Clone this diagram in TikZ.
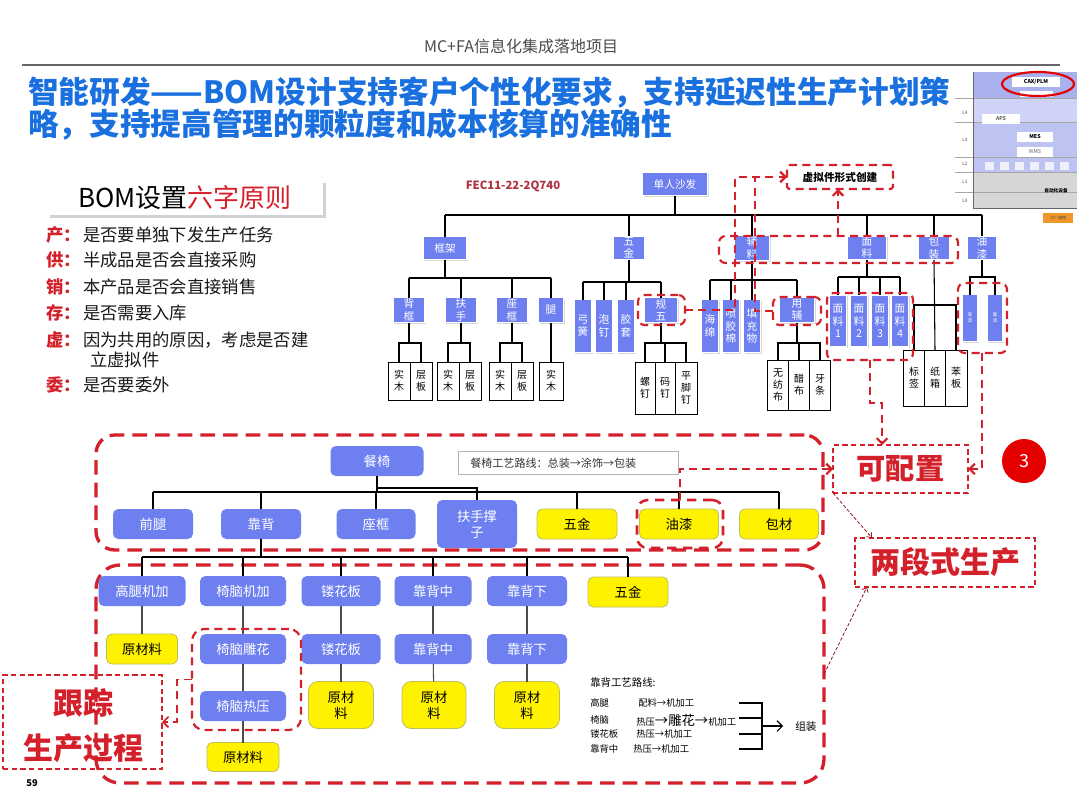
\documentclass[tikz,border=0pt]{standalone}
\usepackage{fontspec}
\setmainfont{Noto Sans CJK SC}
\usetikzlibrary{arrows.meta,shadows,calc}
\definecolor{nblue}{RGB}{110,128,240}
\definecolor{yborder}{RGB}{190,190,90}
\definecolor{rred}{RGB}{212,32,42}
\definecolor{tblue}{RGB}{25,112,222}
\definecolor{fecred}{RGB}{176,48,64}
\definecolor{thA}{RGB}{168,176,238}
\definecolor{thB}{RGB}{206,211,247}
\definecolor{thC}{RGB}{190,196,242}
\definecolor{thG}{RGB}{214,214,214}
\definecolor{orng}{RGB}{240,150,40}
\begin{document}
\begin{tikzpicture}[x=0.75pt,y=-0.75pt,
  sz/.style 2 args={minimum width=#1*0.75pt,minimum height=#2*0.75pt},
  base/.style={inner sep=0pt,outer sep=0pt,align=center},
  tb/.style={base,rectangle,fill=nblue,draw=white,line width=1.2pt,
     drop shadow={shadow xshift=1pt,shadow yshift=-1pt,opacity=0.3},
     text=white,font=\fontsize{8}{9.3}\selectfont},
  wb/.style={base,draw=black,line width=0.6pt,fill=white,font=\fontsize{7.5}{9}\selectfont},
  mb/.style={base,fill=nblue,rounded corners=4pt,text=white,font=\fontsize{10}{12}\selectfont},
  yb/.style={base,fill=yellow,draw=yborder,line width=0.6pt,rounded corners=4pt,font=\fontsize{10}{12}\selectfont},
  rdb/.style={base,draw=rred,line width=2.5pt,dash pattern=on 11pt off 6pt,rounded corners=14pt},
  rdm/.style={base,draw=rred,line width=1.6pt,dash pattern=on 6pt off 4pt,rounded corners=5pt},
  rdl/.style={draw=rred,line width=1.6pt,dash pattern=on 6pt off 4pt},
  rdf/.style={base,draw=rred,line width=1.1pt,dash pattern=on 4pt off 2.5pt},
  rdt/.style={draw=rred!70!black,line width=0.6pt,dash pattern=on 2.5pt off 1.5pt},
  tline/.style={draw=black,line width=0.8pt},
  gline/.style={draw=black!70,line width=0.8pt},
  arr/.style={-{Straight Barb[length=4pt,width=8pt]}},
  arrs/.style={-{Straight Barb[length=3pt,width=5pt]}},
  bigred/.style={base,text=rred,font=\fontsize{22.5}{26}\selectfont\bfseries},
]
\useasboundingbox (0,0) rectangle (1080,810);
\fill[white] (0,0) rectangle (1080,810);

% ---------- header ----------
\node[font=\fontsize{12}{14}\selectfont,text=black!70] (hdr) at (521,46) {MC+FA信息化集成落地项目};
\coordinate (hl1) at (22,65); \coordinate (hl2) at (1060,65);
\draw[black!60,line width=1.3pt] (hl1) -- (hl2);

% ---------- title ----------
\node[anchor=west,inner sep=0pt,font=\fontsize{23}{27}\selectfont\bfseries,text=tblue] (t1) at (28,93) {智能研发——BOM设计支持客户个性化要求，支持延迟性生产计划策};
\node[anchor=west,inner sep=0pt,font=\fontsize{23}{27}\selectfont\bfseries,text=tblue] (t2) at (28,125) {略，支持提高管理的颗粒度和成本核算的准确性};

% ---------- thumbnail ----------
\fill[thA] (973,72) rectangle (1077,98);
\fill[thB] (973,98) rectangle (1077,122);
\fill[thC] (973,122) rectangle (1077,172);
\fill[thG] (973,172) rectangle (1077,208);
\foreach \yy in {98,122,157,172,192} \draw[black!35,line width=0.4pt] (955,\yy) -- (1077,\yy);
\foreach \xx in {985,1000,1015,1030,1045,1060} \fill[white!75!thC] (\xx,162) rectangle ++(9,8);
\draw[black!60,line width=0.7pt] (973,72) -- (973,208) -- (1077,208);
\node[base,fill=white,sz={48}{10},font=\fontsize{4}{4}\selectfont\bfseries] (cax) at (1036,82) {CAX/PLM};
\node[base,fill=white,sz={33}{6}] (cax2) at (1036,94) {};
\node[base,fill=white,sz={38}{10},font=\fontsize{4}{4}\selectfont] (aps) at (1001,119) {APS};
\node[base,fill=white,sz={36}{10},font=\fontsize{4}{4}\selectfont\bfseries] (mes) at (1035,137) {MES};
\node[base,fill=white,sz={36}{10},font=\fontsize{4}{4}\selectfont,text=black!60] (wms) at (1035,152) {WMS};
\node[base,font=\fontsize{3.5}{4}\selectfont\bfseries] (zdh) at (1056,191) {自动化设备};
\foreach \yy/\ll in {113/L4,140/L3,164/L2,182/L1,201/L0}
  \node[base,font=\fontsize{3.5}{4}\selectfont,text=black!70] at (965,\yy) {\ll};
\draw[red!90!black,line width=1.6pt] (1038,84) ellipse [x radius=36,y radius=12];
\node[base,fill=orng,sz={30}{10},font=\fontsize{3}{3}\selectfont,text=black!70] (btn) at (1058,218) {工厂建模};

% ---------- BOM six principles ----------
\node[base,fill=white,sz={276}{35},drop shadow={shadow xshift=2pt,shadow yshift=-2pt,opacity=0.35},font=\fontsize{19.5}{22}\selectfont] (bom) at (185,197.5) {BOM设置\textcolor{rred}{六字原则}};
\foreach \yy/\aa/\bb/\nm in {235/产/是否要单独下发生产任务/p1,260/供/半成品是否会直接采购/p2,287/销/本产品是否会直接销售/p3,313/存/是否需要入库/p4,340/虚/因为共用的原因，考虑是否建/p5,385/委/是否要委外/p6}{
  \node[anchor=west,inner sep=0pt,font=\fontsize{13}{15}\selectfont\bfseries,text=rred] (\nm a) at (46,\yy) {\aa ：};
  \node[anchor=west,inner sep=0pt,font=\fontsize{13}{15}\selectfont,text=black!90] (\nm b) at (83,\yy) {\bb};
}
\node[anchor=west,inner sep=0pt,font=\fontsize{13}{15}\selectfont,text=black!90] (p5c) at (90,360) {立虚拟件};

% ---------- top tree (sofa) ----------
\node[font=\fontsize{8.5}{10}\selectfont\bfseries,text=fecred] (fec) at (513,186) {FEC11-22-2Q740};
\coordinate (b0) at (0,215);
\coordinate (b1) at (0,278);
\coordinate (b2) at (0,343);
\coordinate (b3) at (0,282);
\coordinate (b5) at (0,280);
\coordinate (b6) at (0,277);
\coordinate (b7) at (0,305);

\node[tb,sz={65}{23}] (sofa) at (675,184) {单人沙发};
\node[tb,sz={44}{23}] (kj) at (445,248) {框架};
\node[tb,sz={32}{24}] (wj) at (629,248) {五\\金};
\node[tb,sz={35}{25}] (fl) at (752,248) {辅\\料};
\node[tb,sz={39}{24}] (ml) at (867,248) {面\\料};
\node[tb,sz={32}{24}] (bz) at (934,248) {包\\装};
\node[tb,sz={30}{24}] (yq) at (982,248) {油\\漆};

\draw[tline] (sofa.south) -- (sofa.south |- b0);
\draw[tline] (kj.north |- b0) -- (yq.north |- b0);
\foreach \nn in {kj,wj,fl,ml,bz,yq} \draw[tline] (\nn.north) -- (\nn.north |- b0);

% frame children
\node[tb,sz={32}{25}] (bk) at (409,310) {背\\框};
\node[tb,sz={32}{25}] (fs) at (461,310) {扶\\手};
\node[tb,sz={32}{25}] (zk) at (512,310) {座\\框};
\node[tb,sz={25}{25}] (tui) at (551,310) {腿};
\draw[tline] (kj.south) -- (kj.south |- b1);
\draw[tline] (bk.north |- b1) -- (tui.north |- b1);
\foreach \nn in {bk,fs,zk,tui} \draw[tline] (\nn.north) -- (\nn.north |- b1);

\node[wb,sz={22}{38}] (bk1) at (399,381) {实\\木};
\node[wb,sz={22}{38}] (bk2) at (421,381) {层\\板};
\node[wb,sz={22}{38}] (fs1) at (448,381) {实\\木};
\node[wb,sz={22}{38}] (fs2) at (470,381) {层\\板};
\node[wb,sz={22}{38}] (zk1) at (500,381) {实\\木};
\node[wb,sz={22}{38}] (zk2) at (522,381) {层\\板};
\node[wb,sz={24}{38}] (tui1) at (551,381) {实\\木};
\foreach \pp/\aa/\bb in {bk/bk1/bk2,fs/fs1/fs2,zk/zk1/zk2}{
  \draw[tline] (\pp.south) -- (\pp.south |- b2);
  \draw[tline] (\aa.north) -- (\aa.north |- b2) -- (\bb.north |- b2) -- (\bb.north);
}
\draw[tline] (tui.south) -- (tui1.north);

% hardware children
\node[tb,sz={18}{53}] (gh) at (583,326) {弓\\簧};
\node[tb,sz={18}{53}] (pd) at (604,326) {泡\\钉};
\node[tb,sz={18}{53}] (jt) at (626,326) {胶\\套};
\node[tb,sz={33}{25}] (gw) at (661,310) {规\\五};
\draw[tline] (wj.south) -- (wj.south |- b3);
\draw[tline] (gh.north |- b3) -- (gw.north |- b3);
\foreach \nn in {gh,pd,jt,gw} \draw[tline] (\nn.north) -- (\nn.north |- b3);

\node[wb,sz={20}{52}] (ld) at (645,388) {螺\\钉};
\node[wb,sz={20}{52}] (md) at (665,388) {码\\钉};
\node[wb,sz={22}{52}] (pjd) at (686,388) {平\\脚\\钉};
\draw[tline] (gw.south) -- (gw.south |- b2);
\draw[tline] (ld.north) -- (ld.north |- b2) -- (pjd.north |- b2) -- (pjd.north);
\draw[tline] (md.north) -- (md.north |- b2);

% auxiliary children
\node[tb,sz={17}{53}] (hm) at (710,326) {海\\绵};
\node[tb,sz={17}{53}] (pjm) at (731,326) {喷\\胶\\棉};
\node[tb,sz={17}{53}] (tcw) at (752,326) {填\\充\\物};
\node[tb,sz={35}{25}] (yf) at (797,310) {用\\辅};
\draw[tline] (fl.south) -- (fl.south |- b5);
\draw[tline] (hm.north |- b5) -- (yf.north |- b5);
\foreach \nn in {hm,pjm,tcw,yf} \draw[tline] (\nn.north) -- (\nn.north |- b5);

\node[wb,sz={21}{50}] (wfb) at (778,385) {无\\纺\\布};
\node[wb,sz={21}{50}] (cb) at (799,385) {醋\\布};
\node[wb,sz={21}{50}] (yt) at (820,385) {牙\\条};
\draw[tline] (yf.south) -- (yf.south |- b2);
\draw[tline] (wfb.north) -- (wfb.north |- b2) -- (yt.north |- b2) -- (yt.north);
\draw[tline] (cb.north) -- (cb.north |- b2);

% fabric children
\node[tb,sz={17}{52}] (m1) at (838,321) {面\\料\\1};
\node[tb,sz={17}{52}] (m2) at (859,321) {面\\料\\2};
\node[tb,sz={17}{52}] (m3) at (880,321) {面\\料\\3};
\node[tb,sz={17}{52}] (m4) at (900,321) {面\\料\\4};
\draw[tline] (ml.south) -- (ml.south |- b6);
\draw[tline] (m1.north |- b6) -- (m4.north |- b6);
\foreach \nn in {m1,m2,m3,m4} \draw[tline] (\nn.north) -- (\nn.north |- b6);

% packaging children
\node[wb,sz={22}{56}] (bq) at (914,378) {标\\签};
\node[wb,sz={21}{56}] (zx) at (935,378) {纸\\箱};
\node[wb,sz={22}{56}] (bb) at (956,378) {苯\\板};
\draw[tline] (bz.south) -- (zx.north);
\draw[tline] (bq.north) -- (bq.north |- b7) -- (bb.north |- b7) -- (bb.north);

% paint children
\node[tb,sz={16}{47},font=\fontsize{3.5}{4.5}\selectfont] (yqa) at (970,318) {底\\漆};
\node[tb,sz={16}{47},font=\fontsize{3.5}{4.5}\selectfont] (yqb) at (995,318) {面\\漆};
\draw[tline] (yq.south) -- (yq.south |- b6);
\draw[tline] (yqa.north) -- (yqa.north |- b6) -- (yqb.north |- b6) -- (yqb.north);

% red dashed groups (top)
\node[rdm,sz={239}{27}] (g1) at (838.5,249.5) {};
\node[rdm,sz={47}{30}] (g5) at (661.5,310) {};
\node[rdm,sz={48}{28}] (gyf) at (797,311) {};
\node[rdm,sz={86}{67}] (gml) at (870,326.5) {};
\node[rdm,sz={49}{70}] (gyq) at (982.5,318) {};
\node[rdm,rounded corners=2pt,sz={106}{24},font=\fontsize{8}{10}\selectfont\bfseries] (vbox) at (840,177) {虚拟件形式创建};

\coordinate (vx1) at (735,0);
\coordinate (vx2) at (755,0);
\coordinate (vx3) at (838,0);
\coordinate (d1) at (882,403);
\coordinate (e1) at (982,0);
\draw[rdl,arr] (g5.east) -- (g5.east -| vx1) |- (vbox.west);
\draw[rdl] (gyf.west) -- (gyf.west -| vx2) -- (vx2 |- vbox.west);
\draw[rdl,arr] (g1.north -| vx3) -- (vbox.south -| vx3);

% ---------- right labels ----------
\node[rdf,sz={135}{48},font=\fontsize{22}{26}\selectfont\bfseries,text=rred] (kpz) at (900.5,469) {可配置};
\node[rdf,sz={180}{49},font=\fontsize{22.5}{26}\selectfont\bfseries,text=rred] (ldsc) at (945,562.5) {两段式生产};
\node[circle,fill=red!90!black,minimum size=33pt,inner sep=0pt,text=white,font=\fontsize{13.5}{15}\selectfont] (n3) at (1024,461) {3};

\draw[rdl,arr] (gml.south) |- (d1) -- (d1 |- kpz.north);
\draw[rdl,arr] (gyq.south -| e1) -- (e1 |- kpz.east) -- (kpz.east);

% ---------- middle section ----------
\node[rdb,sz={727}{115}] (midbox) at (459.5,492.5) {};
\node[mb,sz={93}{30}] (cy) at (377,461) {餐椅};
\node[base,draw=black!30,line width=0.6pt,sz={220}{23}] (route) at (568,463) {};
\node[anchor=west,inner sep=0pt,font=\fontsize{8.3}{10}\selectfont,text=black!80] (routetxt) at (470,463) {餐椅工艺路线：总装→涂饰→包装};

\coordinate (m0) at (0,492);
\coordinate (m0b) at (0,488);
\node[mb,sz={80}{30}] (qt) at (153,524) {前腿};
\node[mb,sz={80}{30}] (kb) at (261,524) {靠背};
\node[mb,sz={79}{30}] (zkm) at (376,524) {座框};
\node[mb,sz={80}{48}] (fscz) at (477,524) {扶手撑\\子};
\node[yb,sz={80}{30}] (wj3) at (577,524) {五金};
\node[yb,sz={79}{30}] (yq3) at (679,524) {油漆};
\node[yb,sz={79}{30}] (bc) at (779,524) {包材};
\draw[tline] (cy.south) -- (cy.south |- m0);
\draw[tline] (qt.north |- m0) -- (bc.north |- m0);
\foreach \nn in {qt,kb,zkm,wj3,yq3,bc} \draw[tline] (\nn.north) -- (\nn.north |- m0);
\draw[tline] (cy.south |- m0b) -- (fscz.north |- m0b) -- (fscz.north);
\node[rdm,rounded corners=8pt,line width=1.9pt,dash pattern=on 7pt off 5pt,sz={86}{48}] (yqg) at (680,524) {};
\draw[rdl,arr] (yqg.north) -- (yqg.north |- kpz.west) -- (kpz.west);

% ---------- bottom section ----------
\node[rdb,rounded corners=18pt,sz={728}{218}] (botbox) at (460,674) {};
\coordinate (n0) at (0,557);
\node[mb,sz={87}{30}] (gtjj) at (142,591) {高腿机加};
\node[mb,sz={86}{30}] (ynjj) at (243,591) {椅脑机加};
\node[mb,sz={79}{30}] (lhb1) at (341,591) {镂花板};
\node[mb,sz={77}{30}] (kbz1) at (433,591) {靠背中};
\node[mb,sz={80}{30}] (kbx1) at (527,591) {靠背下};
\node[yb,sz={80}{30}] (wj4) at (628,592) {五金};
\node[yb,sz={71}{30}] (ycl1) at (142,649) {原材料};
\node[mb,sz={86}{30}] (yndh) at (243,649) {椅脑雕花};
\node[mb,sz={79}{30}] (lhb2) at (341,649) {镂花板};
\node[mb,sz={77}{30}] (kbz2) at (433,649) {靠背中};
\node[mb,sz={80}{30}] (kbx2) at (527,649) {靠背下};
\node[mb,sz={86}{30}] (ynry) at (243,706) {椅脑热压};
\node[yb,rounded corners=7pt,sz={65}{47}] (ycl2) at (341,705) {原材\\料};
\node[yb,rounded corners=7pt,sz={64}{47}] (ycl3) at (434,705) {原材\\料};
\node[yb,rounded corners=7pt,sz={65}{47}] (ycl4) at (527,705) {原材\\料};
\node[yb,sz={72}{29}] (ycl5) at (243,757) {原材料};

\draw[tline] (kb.south) -- (kb.south |- n0);
\draw[tline] (gtjj.north |- n0) -- (wj4.north |- n0);
\foreach \nn in {gtjj,ynjj,lhb1,kbz1,kbx1,wj4} \draw[tline] (\nn.north) -- (\nn.north |- n0);
\draw[gline] (gtjj) -- (ycl1);
\draw[gline] (ynjj) -- (yndh);
\draw[gline] (yndh) -- (ynry);
\draw[gline] (ynry) -- (ycl5);
\draw[gline] (lhb1) -- (lhb2);
\draw[gline] (lhb2) -- (ycl2);
\draw[gline] (kbz1) -- (kbz2);
\draw[gline] (kbz2) -- (ycl3);
\draw[gline] (kbx1) -- (kbx2);
\draw[gline] (kbx2) -- (ycl4);

\node[rdm,rounded corners=9pt,sz={109}{101}] (yng) at (246.5,679.5) {};

% tracking label
\node[rdf,sz={159}{94}] (gz) at (82.5,722) {};
\node[bigred] (gz1) at (83,703) {跟踪};
\node[bigred] (gz2) at (83,748) {生产过程};
\draw[rdl,line width=1.3pt,arr] (yng.west) -- ++(-15,0) |- (gz.east);

% thin arrows to two-stage
\draw[rdt,arrs] (kpz.south west) -- ($(ldsc.north west)+(17,0)$);
\draw[rdt,arrs] (botbox.east) -- ($(ldsc.south west)+(12,0)$);

% back process route text
\node[anchor=west,inner sep=0pt,font=\fontsize{7.8}{9}\selectfont] (kbr) at (590,683) {靠背工艺路线:};
\foreach \yy/\aa/\xx/\bb/\nm in {703/高腿/638/配料→机加工/r1,734/镂花板/636/热压→机加工/r3,749/靠背中/633/热压→机加工/r4}{
  \node[anchor=west,inner sep=0pt,font=\fontsize{7}{8}\selectfont] (\nm a) at (590,\yy) {\aa};
  \node[anchor=west,inner sep=0pt,font=\fontsize{7}{8}\selectfont] (\nm b) at (\xx,\yy) {\bb};
}
\node[anchor=west,inner sep=0pt,font=\fontsize{7}{8}\selectfont] (r2a) at (590,720) {椅脑};
\node[anchor=west,inner sep=0pt,font=\fontsize{7}{8}\selectfont] (r2b) at (636,720) {热压{\fontsize{10}{10}\selectfont →雕花→}机加工};
\coordinate (bx) at (762,0);
\foreach \yy/\nm in {703/c1,718/c2,734/c3,749/c4} \coordinate (\nm) at (739,\yy);
\draw[tline] (c1) -- (c1 -| bx) -- (c4 -| bx) -- (c4);
\draw[tline] (c2) -- (c2 -| bx);
\draw[tline] (c3) -- (c3 -| bx);
\node[anchor=west,inner sep=0pt,font=\fontsize{8}{9}\selectfont] (zz) at (795,726) {组装};
\draw[tline,-{Straight Barb[length=4pt,width=8pt]}] (bx |- zz.west) -- (zz.west -| 783,0);

% page number
\node[font=\fontsize{7}{8}\selectfont\bfseries] (pg) at (32,783) {59};
\end{tikzpicture}
\end{document}
